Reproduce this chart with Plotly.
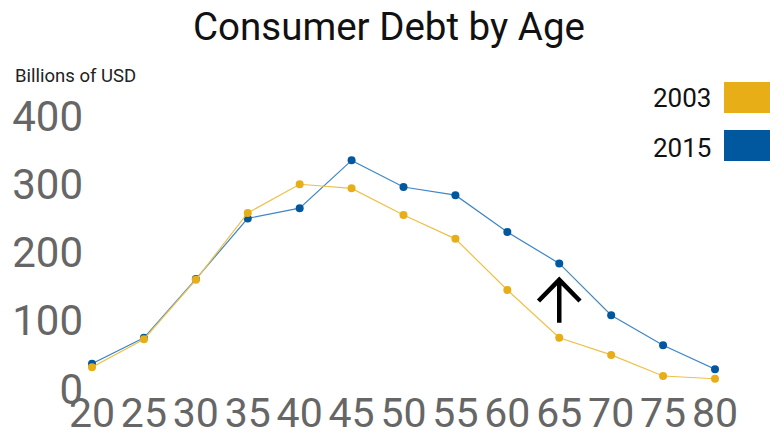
import plotly.graph_objects as go

ages = [20, 25, 30, 35, 40, 45, 50, 55, 60, 65, 70, 75, 80]
debt_2003 = [32, 73, 160, 258, 300, 294, 255, 220, 145, 75, 50, 19, 15]
debt_2015 = [37, 75, 161, 250, 265, 335, 296, 284, 230, 184, 108, 64, 29]
series_names = ["2003", "2015"]
y_ticks = [0, 100, 200, 300, 400]

W, H = 770, 434
L, R, T, B = 92, 55, 116, 45
PW, PH = W - L - R, H - T - B

def px(x):
    return (x - L) / PW

def py(y):
    return (H - B - y) / PH

c2003 = "#E8AE17"
c2015 = "#02589E"
l2003 = "#EEC04A"
l2015 = "#3F86C6"
FONT = "Roboto"

fig = go.Figure()
fig.add_trace(go.Scatter(x=ages, y=debt_2015, mode="lines+markers", name=series_names[1],
                         line=dict(color=l2015, width=1.2),
                         marker=dict(color=c2015, size=8), cliponaxis=False))
fig.add_trace(go.Scatter(x=ages, y=debt_2003, mode="lines+markers", name=series_names[0],
                         line=dict(color=l2003, width=1.2),
                         marker=dict(color=c2003, size=8), cliponaxis=False))

# arrow marker at age 65
ax_x, ax_tip, ax_base, arm_dx, arm_dy = 65, 160, 97, 2.0, 31
fig.add_shape(type="path", xref="x", yref="y",
              path=f"M {ax_x},{ax_base} L {ax_x},{ax_tip} M {ax_x-arm_dx},{ax_tip-arm_dy} L {ax_x},{ax_tip} L {ax_x+arm_dx},{ax_tip-arm_dy}",
              line=dict(color="black", width=4.5))

# custom legend (text left, swatch right)
for name, col, cy, (y0, y1) in [(series_names[0], c2003, 97.5, (82, 113)),
                                (series_names[1], c2015, 147.5, (130, 161))]:
    fig.add_annotation(text=name, xref="paper", yref="paper", x=px(713), y=py(cy),
                       xanchor="right", yanchor="middle", showarrow=False,
                       font=dict(family=FONT, size=26, color="#111"))
    fig.add_shape(type="rect", xref="paper", yref="paper",
                  x0=px(724), x1=px(770), y0=py(y1), y1=py(y0),
                  fillcolor=col, line=dict(width=0))

fig.add_annotation(text="Billions of USD", xref="paper", yref="paper", x=px(13), y=py(76),
                   xanchor="left", yanchor="middle", showarrow=False,
                   font=dict(family=FONT, size=18.5, color="#222"))

fig.update_layout(
    width=W, height=H,
    margin=dict(l=L, r=R, t=T, b=B),
    paper_bgcolor="white", plot_bgcolor="white",
    showlegend=False,
    title=dict(text="Consumer Debt by Age", xref="container", x=389 / W, xanchor="center",
               y=1 - 27 / H, yanchor="middle",
               font=dict(family=FONT, size=38.5, color="#111")),
    xaxis=dict(range=[20, 80], tickvals=ages, showgrid=False, zeroline=False,
               showline=False, ticks="", ticklabelstandoff=-4, automargin=False,
               tickfont=dict(family=FONT, size=41, color="#666")),
    yaxis=dict(range=[0, 400], tickvals=y_ticks, showgrid=False, zeroline=False,
               showline=False, ticks="", ticklabelstandoff=8, automargin=False,
               tickfont=dict(family=FONT, size=42, color="#666")),
)

fig.write_html("out.html")
